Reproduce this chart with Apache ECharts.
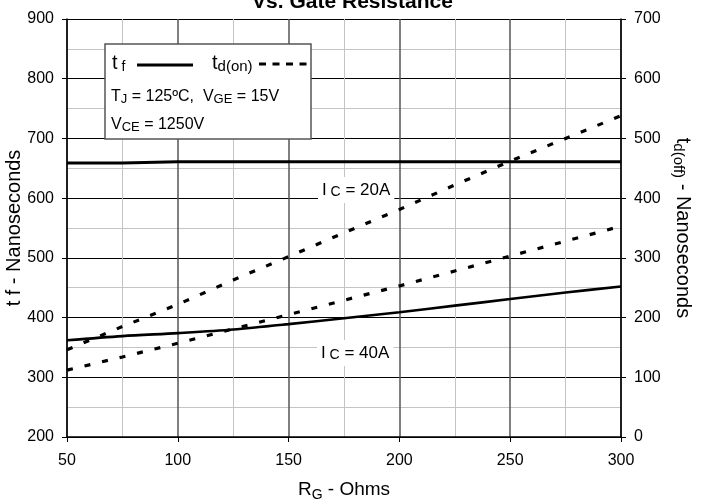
<!DOCTYPE html>
<html>
<head>
<meta charset="utf-8">
<script src="https://cdn.jsdelivr.net/npm/echarts@6/dist/echarts.min.js"></script>
<style>
html,body{margin:0;padding:0;background:#fff;}
#chart{width:705px;height:500px;}
</style>
</head>
<body>
<div id="chart"></div>
<script>
// ---- data ----
var rg = [50, 75, 100, 125, 150, 175, 200, 225, 250, 275, 300];
var tf20 = [659, 659, 661, 661, 661, 661, 661, 661, 661, 661, 661];
var tf40 = [362, 369, 374, 380, 389, 399, 409, 420, 431, 442, 452];
var tdoff20 = [146, 185, 222, 263, 302, 342, 381, 422, 462, 500, 538];
var tdoff40 = [112, 134, 157, 181, 205, 229, 253, 278, 303, 328, 353];
var xTicks = {min: 50, max: 300, interval: 50};
var yLeftTicks = {min: 200, max: 900, interval: 100};
var yRightTicks = {min: 0, max: 700, interval: 100};

function pairs(xs, ys) { return xs.map(function (x, i) { return [x, ys[i]]; }); }

var FONT = '"Liberation Sans", Arial, sans-serif';
function sub(mainSize, subSize, lh) {
  return {
    m: {fontSize: mainSize, fontFamily: FONT, color: '#000', lineHeight: lh, verticalAlign: 'middle'},
    s: {fontSize: subSize, fontFamily: FONT, color: '#000', lineHeight: Math.round(subSize * 0.85), verticalAlign: 'bottom'}
  };
}

var chart = echarts.init(document.getElementById('chart'));
var option = {
  backgroundColor: '#fff',
  animation: false,
  title: {
    text: 'Vs. Gate Resistance',
    left: 'center',
    top: -13,
    textStyle: {fontFamily: FONT, fontWeight: 'bold', fontSize: 21, color: '#000'}
  },
  grid: {left: 67, right: 84, top: 19, bottom: 63, containLabel: false, outerBoundsMode: 'none'},
  xAxis: {
    type: 'value',
    min: xTicks.min, max: xTicks.max, interval: xTicks.interval,
    name: '{m|R}{s|G}{m| - Ohms}',
    nameLocation: 'middle',
    nameGap: 41,
    nameTextStyle: {rich: sub(19, 14, 24)},
    axisLine: {show: true, onZero: false, lineStyle: {color: '#000', width: 1.5}},
    axisTick: {show: true, inside: false, length: 5, lineStyle: {color: '#000'}},
    axisLabel: {fontFamily: FONT, fontSize: 16, color: '#000', margin: 16},
    splitLine: {show: true, lineStyle: {color: '#555', width: 1.5}},
    minorTick: {show: false, splitNumber: 2},
    minorSplitLine: {show: true, lineStyle: {color: '#c4c4c4', width: 1}}
  },
  yAxis: [
    {
      type: 'value',
      min: yLeftTicks.min, max: yLeftTicks.max, interval: yLeftTicks.interval,
      position: 'left',
      name: 't f - Nanoseconds',
      nameLocation: 'middle',
      nameRotate: 90,
      nameGap: 43,
      nameMoveOverlap: false,
      nameTextStyle: {fontFamily: FONT, fontSize: 20, color: '#000'},
      axisLine: {show: true, lineStyle: {color: '#000', width: 1.5}},
      axisTick: {show: true, inside: false, length: 5, lineStyle: {color: '#000'}},
      axisLabel: {fontFamily: FONT, fontSize: 16, color: '#000', margin: 13},
      splitLine: {show: true, lineStyle: {color: '#000', width: 1.2}},
      minorTick: {show: false, splitNumber: 2},
      minorSplitLine: {show: true, lineStyle: {color: '#c4c4c4', width: 1}}
    },
    {
      type: 'value',
      min: yRightTicks.min, max: yRightTicks.max, interval: yRightTicks.interval,
      position: 'right',
      name: '{m|t}{s|d(off)}{m| - Nanoseconds}',
      nameLocation: 'middle',
      nameRotate: -90,
      nameGap: 50,
      nameMoveOverlap: false,
      nameTextStyle: {rich: sub(20, 15, 24)},
      axisLine: {show: true, lineStyle: {color: '#000', width: 1.5}},
      axisTick: {show: true, inside: false, length: 5, lineStyle: {color: '#000'}},
      axisLabel: {fontFamily: FONT, fontSize: 16, color: '#000', margin: 13},
      splitLine: {show: false}
    }
  ],
  series: [
    {
      name: 'tf 20A', type: 'line', yAxisIndex: 0, data: pairs(rg, tf20),
      showSymbol: false, symbol: 'none', z: 5,
      lineStyle: {color: '#000', width: 3, type: 'solid'}
    },
    {
      name: 'tf 40A', type: 'line', yAxisIndex: 0, data: pairs(rg, tf40),
      showSymbol: false, symbol: 'none', smooth: 0.3, z: 5,
      lineStyle: {color: '#000', width: 2.6, type: 'solid'}
    },
    {
      name: 'td 20A', type: 'line', yAxisIndex: 1, data: pairs(rg, tdoff20),
      showSymbol: false, symbol: 'none', z: 5,
      lineStyle: {color: '#000', width: 3.2, type: [6, 12]}
    },
    {
      name: 'td 40A', type: 'line', yAxisIndex: 1, data: pairs(rg, tdoff40),
      showSymbol: false, symbol: 'none', z: 5,
      lineStyle: {color: '#000', width: 3.2, type: [6, 12]}
    }
  ],
  graphic: [
    {
      type: 'rect', z: 100,
      shape: {x: 105, y: 44, width: 206, height: 95},
      style: {fill: '#fff', stroke: '#555', lineWidth: 1.5}
    },
    {
      type: 'text', z: 101, x: 112, y: 52,
      style: {text: '{m|t}{s| f}', rich: sub(20, 14, 22)}
    },
    {
      type: 'line', z: 101,
      shape: {x1: 137, y1: 65, x2: 193, y2: 65},
      style: {stroke: '#000', lineWidth: 3}
    },
    {
      type: 'text', z: 101, x: 212, y: 52,
      style: {text: '{m|t}{s|d(on)}', rich: sub(20, 15, 22)}
    },
    {
      type: 'line', z: 101,
      shape: {x1: 259, y1: 64, x2: 307, y2: 64},
      style: {stroke: '#000', lineWidth: 3, lineDash: [7, 6.5]}
    },
    {
      type: 'text', z: 101, x: 111, y: 88,
      style: {text: '{m|T}{s|J}{m| = 125ºC,  V}{s|GE}{m| = 15V}', rich: sub(16, 13, 18)}
    },
    {
      type: 'text', z: 101, x: 111, y: 116,
      style: {text: '{m|V}{s|CE}{m| = 1250V}', rich: sub(16, 13, 18)}
    },
    {
      type: 'text', z: 101, x: 318, y: 177,
      style: {text: '{m|I}{s| C}{m| = 20A}', rich: sub(17, 14, 18), backgroundColor: '#fff', padding: [4, 4, 4, 4]}
    },
    {
      type: 'text', z: 101, x: 317, y: 340,
      style: {text: '{m|I}{s| C}{m| = 40A}', rich: sub(17, 14, 18), backgroundColor: '#fff', padding: [4, 4, 4, 4]}
    }
  ]
};
chart.setOption(option);
</script>
</body>
</html>
